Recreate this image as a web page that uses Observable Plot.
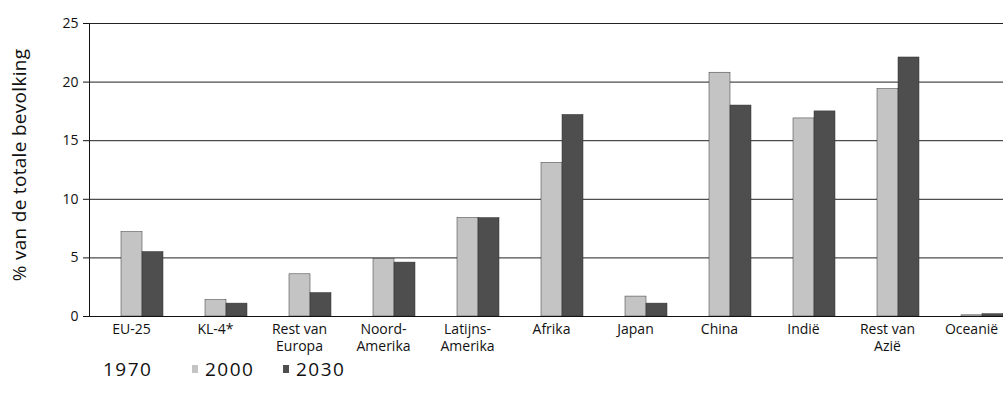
<!DOCTYPE html>
<html>
<head>
<meta charset="utf-8">
<script src="https://cdn.jsdelivr.net/npm/d3@7"></script>
<script src="https://cdn.jsdelivr.net/npm/@observablehq/plot@0.6"></script>
<style>
  html, body { margin: 0; padding: 0; background: #fff; overflow: hidden; }
  #wrap { position: relative; width: 1003px; height: 403px; font-family: "Open Sans", sans-serif; color: #111; }
  #ylabel { position: absolute; left: 19px; top: 165px; transform: translate(-50%, -50%) rotate(-90deg); white-space: nowrap; font-size: 19px; letter-spacing: 0.3px; }
  #legend { position: absolute; left: 90px; top: 356px; display: flex; align-items: center; font-size: 19px; letter-spacing: 1.5px; }
  .item { display: flex; align-items: center; }
  .item:nth-child(1) { width: 102px; }
  .item:nth-child(2) { width: 91px; }
  .sw { width: 6px; height: 8px; margin-right: 7px; }
</style>
</head>
<body>
<div id="wrap">
  <div id="chart"></div>
  <div id="ylabel">% van de totale bevolking</div>
  <div id="legend"></div>
</div>
<script>
const categories = ["EU-25","KL-4*","Rest van Europa","Noord-Amerika","Latijns-Amerika","Afrika","Japan","China","Indië","Rest van Azië","Oceanië"];
const categoryLabels = ["EU-25","KL-4*","Rest van\nEuropa","Noord-\nAmerika","Latijns-\nAmerika","Afrika","Japan","China","Indië","Rest van\nAzië","Oceanië"];
const series = ["1970","2000","2030"];
const values2000 = [7.2, 1.4, 3.6, 4.9, 8.4, 13.1, 1.7, 20.8, 16.9, 19.4, 0.1];
const values2030 = [5.5, 1.1, 2.0, 4.6, 8.4, 17.2, 1.1, 18.0, 17.5, 22.1, 0.2];
const yTicks = [0, 5, 10, 15, 20, 25];
const seriesColors = ["#ffffff", "#c4c4c4", "#4e4e4e"];

const data = [];
categories.forEach((c, i) => {
  data.push({category: c, series: "2000", value: values2000[i]});
  data.push({category: c, series: "2030", value: values2030[i]});
});

const chart = Plot.plot({
  width: 1003,
  height: 358,
  marginLeft: 89,
  marginRight: -10,
  marginTop: 23,
  marginBottom: 42,
  style: {fontFamily: "Open Sans, sans-serif", fontSize: "14px", color: "#111", background: "white", overflow: "hidden"},
  fx: {domain: categories, padding: 0, label: null},
  x: {domain: series, paddingInner: 0, paddingOuter: 0.5, axis: null},
  y: {domain: [0, 25], ticks: yTicks, tickSize: 6, tickPadding: 5, label: null, line: true},
  color: {domain: series, range: seriesColors},
  marks: [
    Plot.ruleY(yTicks.slice(1), {stroke: "#222", strokeWidth: 1}),
    Plot.barY(data, {fx: "category", x: "series", y: "value", fill: "series", stroke: "#333", strokeWidth: 0.5}),
    Plot.ruleY([0], {stroke: "#111", strokeWidth: 1.2}),
    Plot.axisFx({anchor: "bottom", tickSize: 0, tickPadding: 5, label: null, lineHeight: 1.25, fontSize: 14,
      tickFormat: d => categoryLabels[categories.indexOf(d)]})
  ]
});
document.getElementById("chart").appendChild(chart);

const legend = document.getElementById("legend");
series.forEach((s, i) => {
  const item = document.createElement("div");
  item.className = "item";
  const sw = document.createElement("div");
  sw.className = "sw";
  sw.style.background = seriesColors[i];
  const lab = document.createElement("span");
  lab.textContent = s;
  item.appendChild(sw);
  item.appendChild(lab);
  legend.appendChild(item);
});
</script>
</body>
</html>
